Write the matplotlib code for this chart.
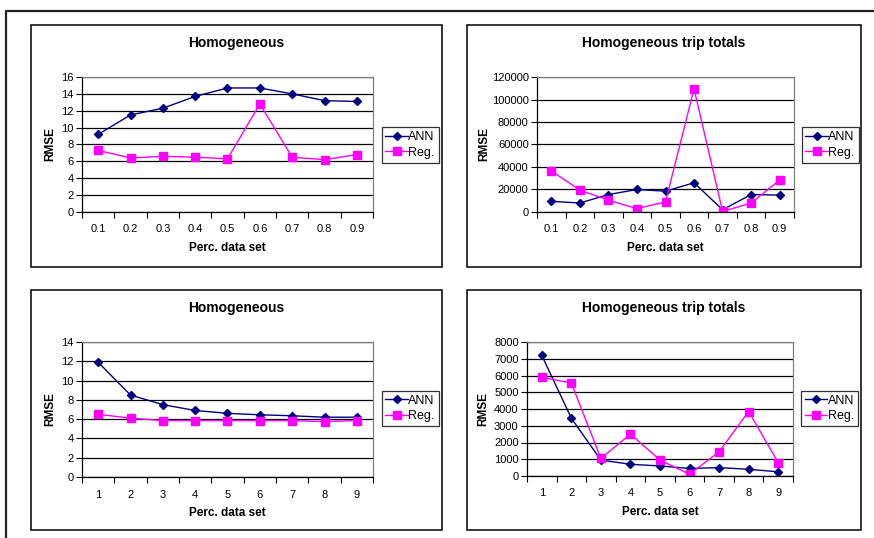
import matplotlib
matplotlib.use("Agg")
import matplotlib.pyplot as plt
from matplotlib.patches import Rectangle
from matplotlib.lines import Line2D
import numpy as np

plt.rcParams['font.family'] = ['Liberation Sans', 'DejaVu Sans']

W, H = 874, 538

# data
cats_top = ['0.1', '0.2', '0.3', '0.4', '0.5', '0.6', '0.7', '0.8', '0.9']
cats_bot = ['1', '2', '3', '4', '5', '6', '7', '8', '9']

ann_tl = [9.2, 11.5, 12.3, 13.7, 14.7, 14.7, 14.0, 13.2, 13.1]
reg_tl = [7.3, 6.4, 6.6, 6.5, 6.3, 12.8, 6.5, 6.2, 6.8]

ann_tr = [9500, 8000, 15500, 20000, 18500, 26000, 2000, 15500, 15000]
reg_tr = [36500, 19500, 10500, 3000, 9000, 109500, 500, 8000, 28500]

ann_bl = [11.9, 8.5, 7.5, 6.9, 6.6, 6.45, 6.35, 6.2, 6.2]
reg_bl = [6.5, 6.1, 5.85, 5.85, 5.85, 5.85, 5.85, 5.75, 5.85]

ann_br = [7200, 3450, 950, 700, 600, 450, 500, 400, 250]
reg_br = [5900, 5550, 1050, 2500, 950, 100, 1450, 3850, 800]

fig = plt.figure(figsize=(W / 100, H / 100), dpi=100)


def fx(x):
    return x / W


def fy(y):
    return 1 - y / H


# outer frame
fig.add_artist(Line2D([fx(6), fx(6), fx(874)], [fy(538), fy(11), fy(11)],
                      color='#222222', lw=1.6, transform=fig.transFigure))


def panel(box, plot, leg, title, cats, ann, reg, ymax, ystep, ylab_x):
    bx0, by0, bx1, by1 = box
    fig.add_artist(Rectangle((fx(bx0), fy(by1)), fx(bx1 - bx0), (by1 - by0) / H,
                             fill=False, ec='black', lw=1.1,
                             transform=fig.transFigure))
    px0, py0, px1, py1 = plot
    ax = fig.add_axes([fx(px0), fy(py1), fx(px1 - px0), (py1 - py0) / H])
    x = np.arange(len(cats))
    l1, = ax.plot(x, ann, color='#000080', lw=1, marker='D', ms=3.8,
                  label='ANN')
    l2, = ax.plot(x, reg, color='#FF00FF', lw=1, marker='s', ms=5.2,
                  label='Reg.')
    ax.set_xlim(-0.5, len(cats) - 0.5)
    ax.set_ylim(0, ymax)
    ax.set_yticks(np.arange(0, ymax + ystep / 2, ystep))
    ax.set_xticks(x)
    ax.set_xticklabels(cats)
    ax.set_xticks(np.arange(-0.5, len(cats)), minor=True)
    ax.tick_params(axis='x', which='major', length=0, pad=9, labelsize=8)
    ax.tick_params(axis='x', which='minor', length=4, width=0.8,
                   direction='out')
    ax.tick_params(axis='y', length=4, width=0.8, direction='out', pad=2,
                   labelsize=8)
    ax.grid(axis='y', color='black', lw=0.9)
    ax.set_axisbelow(True)
    for s in ['top', 'right']:
        ax.spines[s].set_color('#808080')
        ax.spines[s].set_linewidth(0.9)
    for s in ['left', 'bottom']:
        ax.spines[s].set_color('black')
        ax.spines[s].set_linewidth(0.9)
    fig.text(fx((bx0 + bx1) / 2), fy(by0 + 18), title, ha='center',
             va='center', fontsize=10, fontweight='bold')
    fig.text(fx((px0 + px1) / 2), fy(py1 + 36), 'Perc. data set',
             ha='center', va='center', fontsize=8.5, fontweight='bold')
    fig.text(fx(ylab_x), fy((py0 + py1) / 2), 'RMSE', rotation=90,
             ha='center', va='center', fontsize=8.5, fontweight='bold')
    lx0, ly0, lx1, ly1 = leg
    lg = fig.legend(handles=[l1, l2], loc='center',
                    bbox_to_anchor=(fx((lx0 + lx1) / 2), fy((ly0 + ly1) / 2)),
                    fontsize=9, frameon=True, fancybox=False,
                    handlelength=1.8, handletextpad=0.05, borderpad=0.3,
                    labelspacing=0.3, borderaxespad=0)
    lg.get_frame().set_edgecolor('black')
    lg.get_frame().set_linewidth(0.9)
    return ax


panel((31, 25, 442, 267), (82, 77, 373, 212), (382, 127, 438, 163),
      'Homogeneous', cats_top, ann_tl, reg_tl, 16, 2, 50)
panel((467, 25, 861, 267), (537, 77, 794, 212), (803, 127, 857, 163),
      'Homogeneous trip totals', cats_top, ann_tr, reg_tr, 120000, 20000, 484)
panel((31, 290, 442, 530), (82, 342, 373, 477), (382, 390, 438, 427),
      'Homogeneous', cats_bot, ann_bl, reg_bl, 14, 2, 50)
panel((467, 290, 861, 530), (527, 342, 793, 476), (802, 390, 857, 427),
      'Homogeneous trip totals', cats_bot, ann_br, reg_br, 8000, 1000, 483)

fig.savefig('out.png', dpi=100)
